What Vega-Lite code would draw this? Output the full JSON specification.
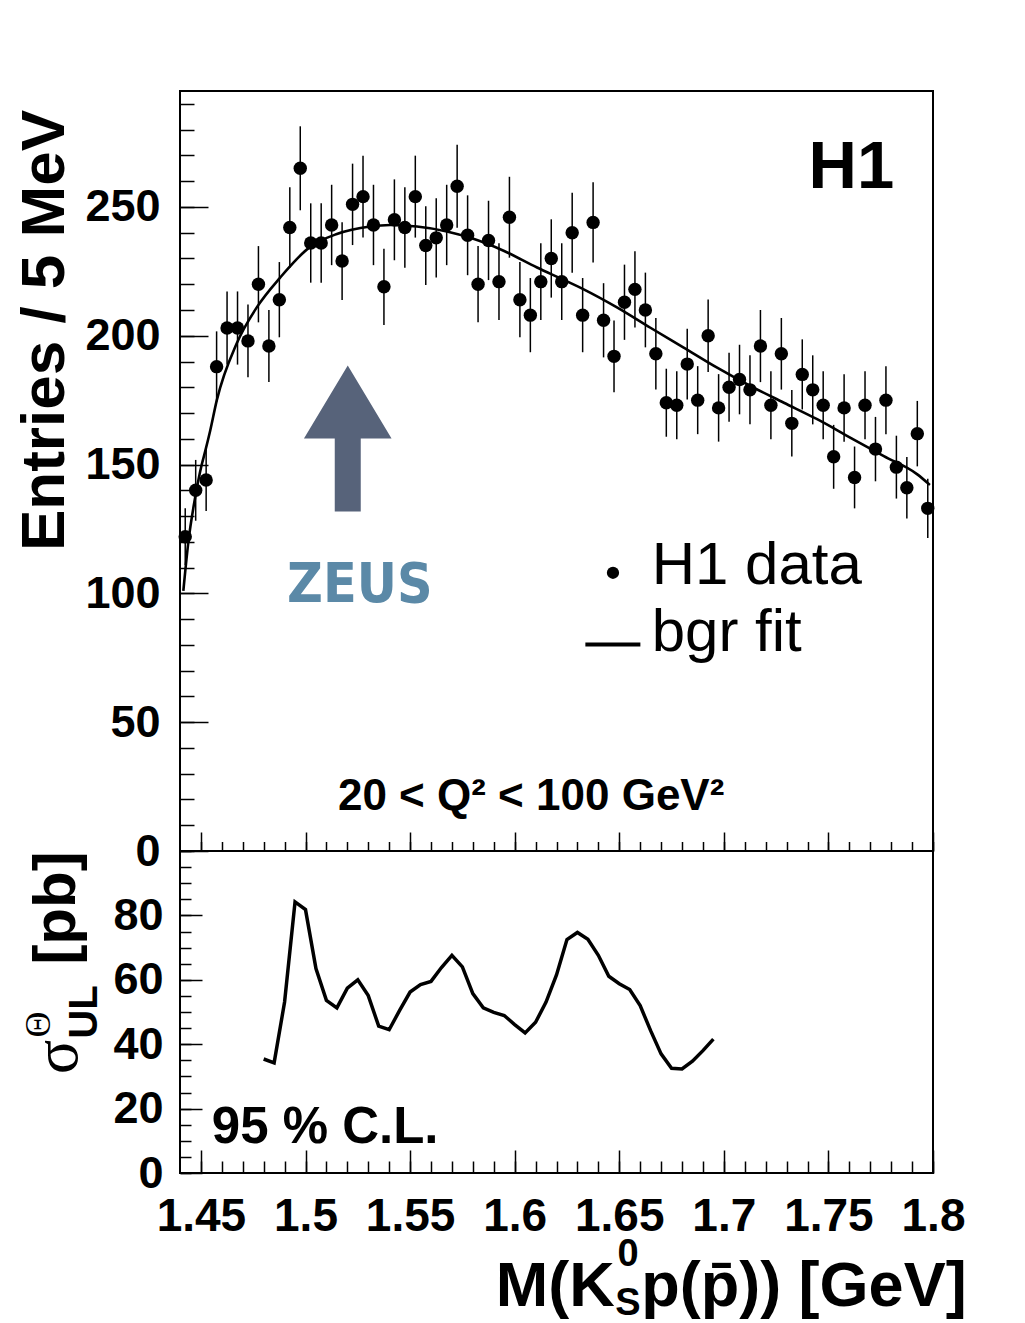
{
  "$schema": "https://vega.github.io/schema/vega-lite/v6.json",
  "autosize": {"type": "pad"},
  "padding": {"left": 11, "top": 90, "right": 10, "bottom": 0},
  "background": "white",
  "spacing": 0,
  "bounds": "flush",
  "config": {
    "view": {"stroke": "black", "strokeWidth": 2},
    "font": "Liberation Sans",
    "axis": {
      "domain": false, "grid": false, "tickColor": "black", "tickWidth": 1.5,
      "labelFont": "Liberation Sans", "labelFontWeight": "bold", "labelColor": "black",
      "labelFlush": false, "labelOverlap": false, "labelBound": false
    }
  },
  "datasets": {
    "hist": [
      {"m":1.4425,"n":122,"err":11.0},{"m":1.4475,"n":140,"err":11.8},{"m":1.4525,"n":144,"err":12.0},{"m":1.4575,"n":188,"err":13.7},
      {"m":1.4625,"n":203,"err":14.2},{"m":1.4675,"n":203,"err":14.2},{"m":1.4725,"n":198,"err":14.1},{"m":1.4775,"n":220,"err":14.8},
      {"m":1.4825,"n":196,"err":14.0},{"m":1.4875,"n":214,"err":14.6},{"m":1.4925,"n":242,"err":15.6},{"m":1.4975,"n":265,"err":16.3},
      {"m":1.5025,"n":236,"err":15.4},{"m":1.5075,"n":236,"err":15.4},{"m":1.5125,"n":243,"err":15.6},{"m":1.5175,"n":229,"err":15.1},
      {"m":1.5225,"n":251,"err":15.8},{"m":1.5275,"n":254,"err":15.9},{"m":1.5325,"n":243,"err":15.6},{"m":1.5375,"n":219,"err":14.8},
      {"m":1.5425,"n":245,"err":15.7},{"m":1.5475,"n":242,"err":15.6},{"m":1.5525,"n":254,"err":15.9},{"m":1.5575,"n":235,"err":15.3},
      {"m":1.5625,"n":238,"err":15.4},{"m":1.5675,"n":243,"err":15.6},{"m":1.5725,"n":258,"err":16.1},{"m":1.5775,"n":239,"err":15.5},
      {"m":1.5825,"n":220,"err":14.8},{"m":1.5875,"n":237,"err":15.4},{"m":1.5925,"n":221,"err":14.9},{"m":1.5975,"n":246,"err":15.7},
      {"m":1.6025,"n":214,"err":14.6},{"m":1.6075,"n":208,"err":14.4},{"m":1.6125,"n":221,"err":14.9},{"m":1.6175,"n":230,"err":15.2},
      {"m":1.6225,"n":221,"err":14.9},{"m":1.6275,"n":240,"err":15.5},{"m":1.6325,"n":208,"err":14.4},{"m":1.6375,"n":244,"err":15.6},
      {"m":1.6425,"n":206,"err":14.4},{"m":1.6475,"n":192,"err":13.9},{"m":1.6525,"n":213,"err":14.6},{"m":1.6575,"n":218,"err":14.8},
      {"m":1.6625,"n":210,"err":14.5},{"m":1.6675,"n":193,"err":13.9},{"m":1.6725,"n":174,"err":13.2},{"m":1.6775,"n":173,"err":13.2},
      {"m":1.6825,"n":189,"err":13.7},{"m":1.6875,"n":175,"err":13.2},{"m":1.6925,"n":200,"err":14.1},{"m":1.6975,"n":172,"err":13.1},
      {"m":1.7025,"n":180,"err":13.4},{"m":1.7075,"n":183,"err":13.5},{"m":1.7125,"n":179,"err":13.4},{"m":1.7175,"n":196,"err":14.0},
      {"m":1.7225,"n":173,"err":13.2},{"m":1.7275,"n":193,"err":13.9},{"m":1.7325,"n":166,"err":12.9},{"m":1.7375,"n":185,"err":13.6},
      {"m":1.7425,"n":179,"err":13.4},{"m":1.7475,"n":173,"err":13.2},{"m":1.7525,"n":153,"err":12.4},{"m":1.7575,"n":172,"err":13.1},
      {"m":1.7625,"n":145,"err":12.0},{"m":1.7675,"n":173,"err":13.2},{"m":1.7725,"n":156,"err":12.5},{"m":1.7775,"n":175,"err":13.2},
      {"m":1.7825,"n":149,"err":12.2},{"m":1.7875,"n":141,"err":11.9},{"m":1.7925,"n":162,"err":12.7},{"m":1.7975,"n":133,"err":11.5}
    ],
    "fit": [
      {"m":1.4416,"f":101},{"m":1.444,"f":120},{"m":1.4472,"f":137},{"m":1.4504,"f":150},{"m":1.452,"f":155},{"m":1.4544,"f":163},
      {"m":1.4576,"f":175},{"m":1.4671,"f":197},{"m":1.4767,"f":211},{"m":1.4878,"f":222.5},{"m":1.5022,"f":234.5},{"m":1.515,"f":239.5},
      {"m":1.5309,"f":242.4},{"m":1.5405,"f":243},{"m":1.5533,"f":242.4},{"m":1.5676,"f":240.5},{"m":1.5788,"f":238},{"m":1.5947,"f":233},
      {"m":1.6107,"f":226.5},{"m":1.6226,"f":222},{"m":1.633,"f":218},{"m":1.6489,"f":211},{"m":1.6649,"f":203.1},{"m":1.6808,"f":195.4},
      {"m":1.6968,"f":187.6},{"m":1.7127,"f":180.5},{"m":1.7287,"f":174},{"m":1.7446,"f":167.6},{"m":1.7606,"f":160.4},{"m":1.7765,"f":153.3},
      {"m":1.7925,"f":146.2},{"m":1.7985,"f":142.1}
    ],
    "ul": [
      {"m":1.480,"s":35.4},{"m":1.485,"s":34.2},{"m":1.490,"s":53.1},{"m":1.495,"s":84.2},{"m":1.500,"s":81.8},{"m":1.505,"s":63.5},
      {"m":1.510,"s":53.6},{"m":1.515,"s":51.3},{"m":1.520,"s":57.4},{"m":1.525,"s":60.0},{"m":1.530,"s":55.1},{"m":1.535,"s":45.6},
      {"m":1.540,"s":44.5},{"m":1.545,"s":50.5},{"m":1.550,"s":56.2},{"m":1.555,"s":58.5},{"m":1.560,"s":59.5},{"m":1.565,"s":63.8},
      {"m":1.570,"s":67.6},{"m":1.575,"s":64.0},{"m":1.580,"s":55.7},{"m":1.585,"s":51.3},{"m":1.590,"s":49.9},{"m":1.595,"s":48.9},
      {"m":1.600,"s":46.1},{"m":1.605,"s":43.5},{"m":1.610,"s":46.8},{"m":1.615,"s":53.1},{"m":1.620,"s":61.5},{"m":1.625,"s":72.5},
      {"m":1.630,"s":74.7},{"m":1.635,"s":72.6},{"m":1.640,"s":67.6},{"m":1.645,"s":61.1},{"m":1.650,"s":58.8},{"m":1.655,"s":57.0},
      {"m":1.660,"s":52.0},{"m":1.665,"s":44.2},{"m":1.670,"s":37.0},{"m":1.675,"s":32.5},{"m":1.680,"s":32.3},{"m":1.685,"s":34.7},
      {"m":1.690,"s":38.0},{"m":1.695,"s":41.6}
    ],
    "one": [{}]
  },
  "vconcat": [
    {
      "width": 753,
      "height": 760,
      "resolve": {"axis": {"x": "independent", "y": "independent"}},
      "layer": [
        {
          "data": {"name": "hist"},
          "mark": {"type": "errorbar", "ticks": false, "color": "black", "thickness": 1.5},
          "encoding": {
            "x": {"field": "m", "type": "quantitative", "scale": {"domain": [1.44, 1.8], "nice": false, "zero": false},
                  "axis": {"orient": "bottom", "values": [1.45,1.5,1.55,1.6,1.65,1.7,1.75,1.8], "tickSize": -19, "labels": false, "title": null}},
            "y": {"field": "n", "type": "quantitative", "scale": {"domain": [0, 295], "nice": false},
                  "axis": {"orient": "left", "values": [0,50,100,150,200,250], "tickSize": -28, "labelPadding": 48, "labelFontSize": 45,
                           "title": "Entries / 5 MeV", "titleFontSize": 62, "titleFontWeight": "bold", "titleFont": "Liberation Sans", "titleColor": "black",
                           "titleX": -117, "titleY": 239, "titleAngle": 270, "titleAlign": "center", "titleBaseline": "alphabetic"}},
            "yError": {"field": "err"}
          }
        },
        {
          "data": {"name": "hist"},
          "mark": {"type": "point", "filled": true, "size": 180, "color": "black", "opacity": 1},
          "encoding": {
            "x": {"field": "m", "type": "quantitative",
                  "axis": {"orient": "bottom", "values": [1.45,1.46,1.47,1.48,1.49,1.5,1.51,1.52,1.53,1.54,1.55,1.56,1.57,1.58,1.59,1.6,1.61,1.62,1.63,1.64,1.65,1.66,1.67,1.68,1.69,1.7,1.71,1.72,1.73,1.74,1.75,1.76,1.77,1.78,1.79,1.8], "tickSize": -9.5, "labels": false, "title": null}},
            "y": {"field": "n", "type": "quantitative",
                  "axis": {"orient": "left", "values": [0,10,20,30,40,50,60,70,80,90,100,110,120,130,140,150,160,170,180,190,200,210,220,230,240,250,260,270,280,290], "tickSize": -14, "labels": false, "title": null}}
          }
        },
        {
          "data": {"name": "fit"},
          "mark": {"type": "line", "color": "black", "strokeWidth": 2.6, "interpolate": "monotone"},
          "encoding": {
            "x": {"field": "m", "type": "quantitative", "axis": null},
            "y": {"field": "f", "type": "quantitative", "axis": null}
          }
        },
        {
          "data": {"name": "one"},
          "mark": {"type": "point", "shape": "M0,-1L0.6,0L0.178,0L0.178,1L-0.178,1L-0.178,0L-0.6,0Z", "size": 21316, "filled": true, "color": "#57637a", "opacity": 1, "strokeWidth": 0},
          "encoding": {"x": {"datum": 1.5202, "axis": null}, "y": {"datum": 160.1, "axis": null}}
        },
        {
          "data": {"name": "one"},
          "mark": {"type": "text", "text": "ZEUS", "font": "'DejaVu Sans Condensed', 'Liberation Sans'", "fontSize": 55, "fontWeight": "bold", "color": "#5b89a7", "align": "left", "baseline": "alphabetic"},
          "encoding": {"x": {"datum": 1.4912, "axis": null}, "y": {"datum": 96.8, "axis": null}}
        },
        {
          "data": {"name": "one"},
          "mark": {"type": "text", "text": "H1", "fontSize": 67, "fontWeight": "bold", "color": "black", "align": "left", "baseline": "alphabetic"},
          "encoding": {"x": {"datum": 1.7405, "axis": null}, "y": {"datum": 257.4, "axis": null}}
        },
        {
          "data": {"name": "one"},
          "mark": {"type": "point", "filled": true, "size": 150, "color": "black", "opacity": 1},
          "encoding": {"x": {"datum": 1.647, "axis": null}, "y": {"datum": 108.0, "axis": null}}
        },
        {
          "data": {"name": "one"},
          "mark": {"type": "text", "text": "H1 data", "fontSize": 60, "color": "black", "align": "left", "baseline": "alphabetic"},
          "encoding": {"x": {"datum": 1.6655, "axis": null}, "y": {"datum": 103.5, "axis": null}}
        },
        {
          "data": {"name": "one"},
          "mark": {"type": "rule", "color": "black", "strokeWidth": 4},
          "encoding": {"x": {"datum": 1.6338, "axis": null}, "x2": {"datum": 1.6601}, "y": {"datum": 80.2, "axis": null}}
        },
        {
          "data": {"name": "one"},
          "mark": {"type": "text", "text": "bgr fit", "fontSize": 60, "color": "black", "align": "left", "baseline": "alphabetic"},
          "encoding": {"x": {"datum": 1.6655, "axis": null}, "y": {"datum": 77.6, "axis": null}}
        },
        {
          "data": {"name": "one"},
          "mark": {"type": "text", "text": "20 < Q² < 100 GeV²", "fontSize": 44, "fontWeight": "bold", "color": "black", "align": "left", "baseline": "alphabetic"},
          "encoding": {"x": {"datum": 1.5155, "axis": null}, "y": {"datum": 16.1, "axis": null}}
        }
      ]
    },
    {
      "width": 753,
      "height": 322,
      "resolve": {"axis": {"x": "independent", "y": "independent"}},
      "layer": [
        {
          "data": {"name": "ul"},
          "mark": {"type": "line", "color": "black", "strokeWidth": 3.5},
          "encoding": {
            "x": {"field": "m", "type": "quantitative", "scale": {"domain": [1.44, 1.8], "nice": false, "zero": false},
                  "axis": {"orient": "bottom", "values": [1.45,1.5,1.55,1.6,1.65,1.7,1.75,1.8], "format": "~g", "tickSize": -23, "labelPadding": 44, "labelFontSize": 46, "title": null}},
            "y": {"field": "s", "type": "quantitative", "scale": {"domain": [0, 100], "nice": false},
                  "axis": {"orient": "left", "values": [0,20,40,60,80], "tickSize": -22, "labelPadding": 39, "labelFontSize": 45, "title": null}}
          }
        },
        {
          "data": {"name": "ul"},
          "mark": {"type": "point", "opacity": 0},
          "encoding": {
            "x": {"field": "m", "type": "quantitative",
                  "axis": {"orient": "bottom", "values": [1.45,1.46,1.47,1.48,1.49,1.5,1.51,1.52,1.53,1.54,1.55,1.56,1.57,1.58,1.59,1.6,1.61,1.62,1.63,1.64,1.65,1.66,1.67,1.68,1.69,1.7,1.71,1.72,1.73,1.74,1.75,1.76,1.77,1.78,1.79,1.8], "tickSize": -12, "labels": false, "title": null}},
            "y": {"field": "s", "type": "quantitative",
                  "axis": {"orient": "left", "values": [0,5,10,15,20,25,30,35,40,45,50,55,60,65,70,75,80,85,90,95,100], "tickSize": -11, "labels": false, "title": null}}
          }
        },
        {
          "data": {"name": "one"},
          "mark": {"type": "text", "text": "95 % C.L.", "fontSize": 51, "fontWeight": "bold", "color": "black", "align": "left", "baseline": "alphabetic"},
          "encoding": {"x": {"datum": 1.4552, "axis": null}, "y": {"datum": 9.4, "axis": null}}
        },
        {
          "data": {"name": "one"},
          "mark": {"type": "text", "text": "[pb]", "fontSize": 60, "fontWeight": "bold", "color": "black", "align": "center", "baseline": "alphabetic", "angle": 270},
          "encoding": {"x": {"datum": 1.38976, "axis": null}, "y": {"datum": 82.3, "axis": null}}
        },
        {
          "data": {"name": "one"},
          "mark": {"type": "text", "text": "UL", "fontSize": 40, "fontWeight": "bold", "color": "black", "align": "center", "baseline": "alphabetic", "angle": 270},
          "encoding": {"x": {"datum": 1.40029, "axis": null}, "y": {"datum": 50.0, "axis": null}}
        },
        {
          "data": {"name": "one"},
          "mark": {"type": "text", "text": "Θ", "font": "Liberation Serif", "fontSize": 36, "color": "black", "align": "center", "baseline": "alphabetic", "angle": 270},
          "encoding": {"x": {"datum": 1.3778, "axis": null}, "y": {"datum": 46.1, "axis": null}}
        },
        {
          "data": {"name": "one"},
          "mark": {"type": "text", "text": "σ", "font": "Liberation Serif", "fontSize": 64, "color": "black", "align": "center", "baseline": "alphabetic", "angle": 270},
          "encoding": {"x": {"datum": 1.3906, "axis": null}, "y": {"datum": 36.0, "axis": null}}
        },
        {
          "data": {"name": "one"},
          "mark": {"type": "text", "text": "M(K", "fontSize": 63, "fontWeight": "bold", "color": "black", "align": "right", "baseline": "alphabetic"},
          "encoding": {"x": {"datum": 1.6478, "axis": null}, "y": {"datum": -41.3, "axis": null}}
        },
        {
          "data": {"name": "one"},
          "mark": {"type": "text", "text": "0", "fontSize": 38, "fontWeight": "bold", "color": "black", "align": "center", "baseline": "alphabetic"},
          "encoding": {"x": {"datum": 1.6542, "axis": null}, "y": {"datum": -28.8, "axis": null}}
        },
        {
          "data": {"name": "one"},
          "mark": {"type": "text", "text": "S", "fontSize": 38, "fontWeight": "bold", "color": "black", "align": "center", "baseline": "alphabetic"},
          "encoding": {"x": {"datum": 1.6542, "axis": null}, "y": {"datum": -44.0, "axis": null}}
        },
        {
          "data": {"name": "one"},
          "mark": {"type": "text", "text": "p(p̄)) [GeV]", "fontSize": 63, "fontWeight": "bold", "color": "black", "align": "left", "baseline": "alphabetic"},
          "encoding": {"x": {"datum": 1.6605, "axis": null}, "y": {"datum": -41.3, "axis": null}}
        }
      ]
    }
  ]
}
